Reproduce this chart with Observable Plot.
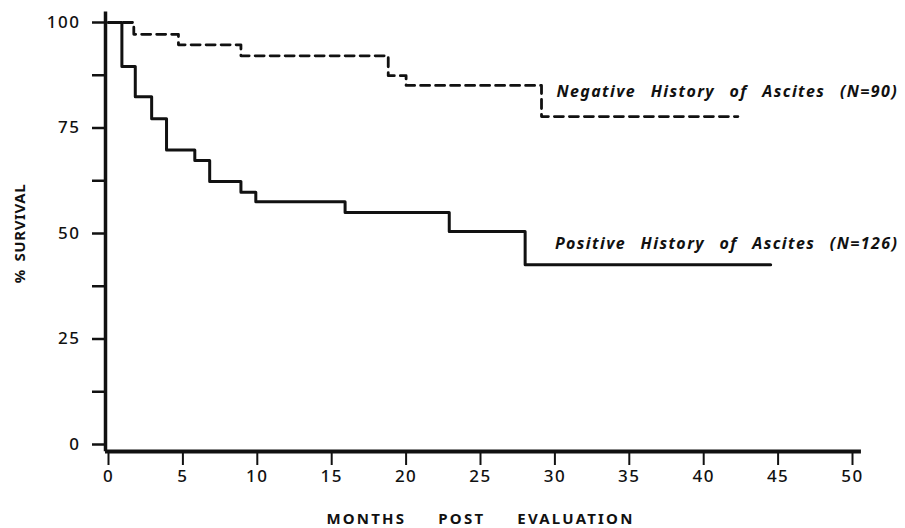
<!DOCTYPE html>
<html>
<head>
<meta charset="utf-8">
<script src="https://cdn.jsdelivr.net/npm/d3@7"></script>
<script src="https://cdn.jsdelivr.net/npm/@observablehq/plot@0.6"></script>
<style>
  html, body { margin: 0; padding: 0; background: #fff; }
  svg { font-family: "Noto Sans", sans-serif; }
</style>
</head>
<body>
<div id="chart"></div>
<script>
// Kaplan–Meier survival steps (months post evaluation, % survival)
const posMonths = [0, 0.9, 1.8, 2.9, 3.9, 5.8, 6.8, 8.9, 9.9, 15.9, 22.9, 28, 44.5];
const posSurvival = [100, 89.6, 82.4, 77.2, 69.8, 67.3, 62.3, 59.8, 57.5, 55.0, 50.5, 42.6, 42.6];
const negMonths = [0, 1.7, 4.7, 8.9, 18.8, 20, 29.1, 42.3];
const negSurvival = [100, 97.2, 94.7, 92.1, 87.4, 85.1, 77.7, 77.7];

const xTicks = [0, 5, 10, 15, 20, 25, 30, 35, 40, 45, 50];
const yTicks = [0, 25, 50, 75, 100];
const yMinorTicks = [12.5, 37.5, 62.5, 87.5];

const labels = ["Negative History of Ascites (N=90)", "Positive History of Ascites (N=126)"];
const labelMonth = [30.1, 30.0];
const labelSurvival = [83.5, 47.6];
const xTitle = "MONTHS POST EVALUATION";
const yTitle = "% SURVIVAL";

const pos = posMonths.map((m, i) => ({month: m, survival: posSurvival[i]}));
const neg = negMonths.map((m, i) => ({month: m, survival: negSurvival[i]}));
const lab = labels.map((t, i) => ({text: t, month: labelMonth[i], survival: labelSurvival[i]}));

const chart = Plot.plot({
  width: 905,
  height: 528,
  marginLeft: 108,
  marginRight: 53,
  marginTop: 22,
  marginBottom: 84,
  x: {domain: [0, 50]},
  y: {domain: [0, 100]},
  style: {fontSize: "15px", color: "#111", background: "#fff"},
  marks: [
    Plot.axisY(yTicks, {tickSize: 13, tickPadding: 12, dx: -3, strokeWidth: 2.5, fontSize: 17, fontWeight: 500, label: null}),
    Plot.axisY(yMinorTicks, {tickSize: 13, dx: -3, strokeWidth: 2.5, text: null, label: null}),
    Plot.axisX(xTicks, {tickSize: 14, tickPadding: 4, dy: 7, strokeWidth: 2, fontSize: 17, fontWeight: 500, label: null}),
    Plot.ruleX([0], {y1: -1.7, y2: 102.5, dx: -3, strokeWidth: 3.5, stroke: "#111"}),
    Plot.ruleY([0], {x1: -0.2, x2: 50.6, dy: 7, strokeWidth: 4, stroke: "#111"}),
    Plot.line(neg, {x: "month", y: "survival", curve: "step-after", stroke: "#111", strokeWidth: 2.8, strokeDasharray: "9,6"}),
    Plot.line(pos, {x: "month", y: "survival", curve: "step-after", stroke: "#111", strokeWidth: 3}),
    Plot.text(lab, {x: "month", y: "survival", text: "text", textAnchor: "start", fontStyle: "italic", fontWeight: "bold", fontSize: 16, fill: "#111"}),
    Plot.text([yTitle], {frameAnchor: "left", textAnchor: "middle", rotate: -90, dx: -88, fontSize: 15, fontWeight: "bold", fill: "#111"}),
    Plot.text([xTitle], {frameAnchor: "bottom", dy: 79, fontSize: 15, fontWeight: "bold", fill: "#111"})
  ]
});
chart.querySelectorAll("text").forEach((t) => {
  const s = t.textContent;
  if (labels.includes(s)) {
    t.style.letterSpacing = "1.4px";
    t.style.wordSpacing = "9px";
  } else if (s === xTitle) {
    t.style.letterSpacing = "2.2px";
    t.style.wordSpacing = "26px";
  } else if (s === yTitle) {
    t.style.letterSpacing = "0.6px";
    t.style.wordSpacing = "3px";
  } else {
    t.style.letterSpacing = "1.5px";
  }
});
document.getElementById("chart").appendChild(chart);
</script>
</body>
</html>
